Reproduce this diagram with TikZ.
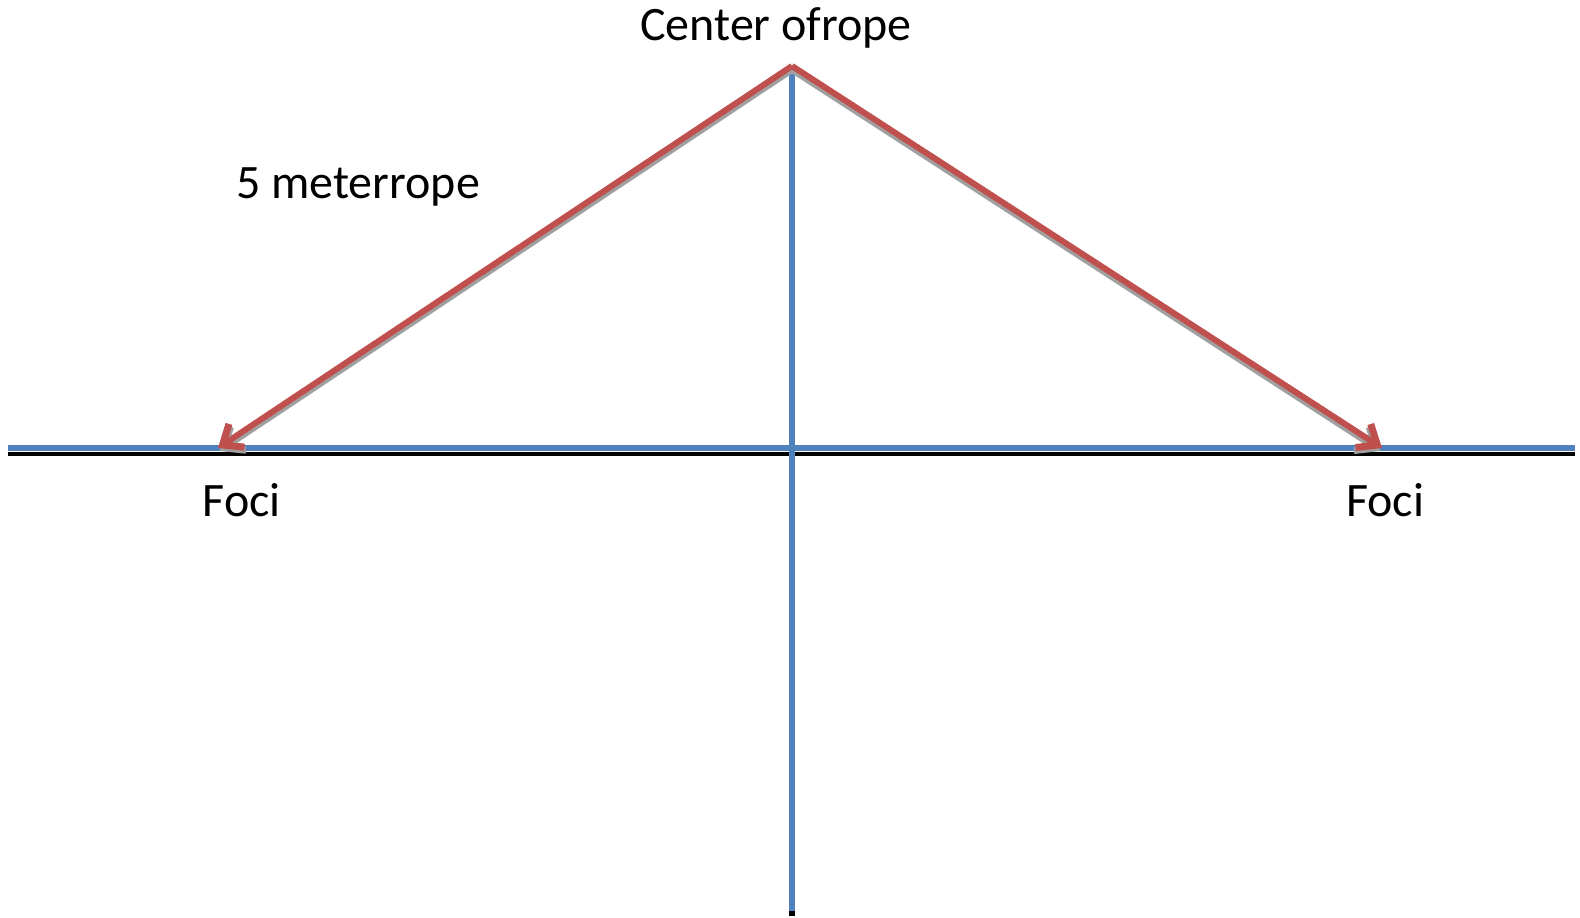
\documentclass[tikz,border=0pt]{standalone}
\usepackage{fontspec}
\setmainfont{Carlito}
\usetikzlibrary{arrows.meta}
\definecolor{axisblue}{RGB}{79,129,189}
\definecolor{ropered}{RGB}{192,80,77}
\definecolor{shadowgray}{RGB}{160,160,160}
\tikzset{
  lbl/.style={font=\fontsize{48}{56}\selectfont, inner sep=0pt},
  rope/.style={ropered, line width=6pt, -{Straight Barb[length=17pt,width=28pt,line width=7pt]}},
  ropeshadow/.style={shadowgray, line width=6pt, -{Straight Barb[length=17pt,width=28pt,line width=7pt]}},
  axis/.style={axisblue, line width=6pt},
}
\begin{document}
\begin{tikzpicture}[x=1pt,y=-1pt]
\useasboundingbox (0,0) rectangle (1580,918);
\coordinate (hl) at (8,448);
\coordinate (hr) at (1575,448);
\coordinate (top) at (792,68);
\coordinate (bot) at (792,915);
\coordinate (apex) at (792,66);
\coordinate (fl) at (218,448);
\coordinate (fr) at (1382,448);
% black axis under blue
\draw[black, line width=4pt] ([yshift=-6pt]hl) -- ([yshift=-6pt]hr);
\draw[axis] (hl) -- (hr);
\draw[black, line width=6pt] ([yshift=4pt]bot) -- ([yshift=-1pt]bot);
\draw[axis] (top) -- ([yshift=4pt]bot);
% shadows
\draw[ropeshadow] ([shift={(1.5,3)}]apex) -- ([shift={(1.5,3)}]fl);
\draw[ropeshadow] ([shift={(-1.5,3)}]apex) -- ([shift={(-1.5,3)}]fr);
% rope arrows
\draw[rope] (apex) -- (fl);
\draw[rope] (apex) -- (fr);
% labels
\node[lbl] (center) at (776,28) {Center ofrope};
\node[lbl] (meter) at (358,187) {5 meterrope};
\node[lbl] (focil) at (242,500) {Foci};
\node[lbl] (focir) at (1385,500) {Foci};
\end{tikzpicture}
\end{document}
